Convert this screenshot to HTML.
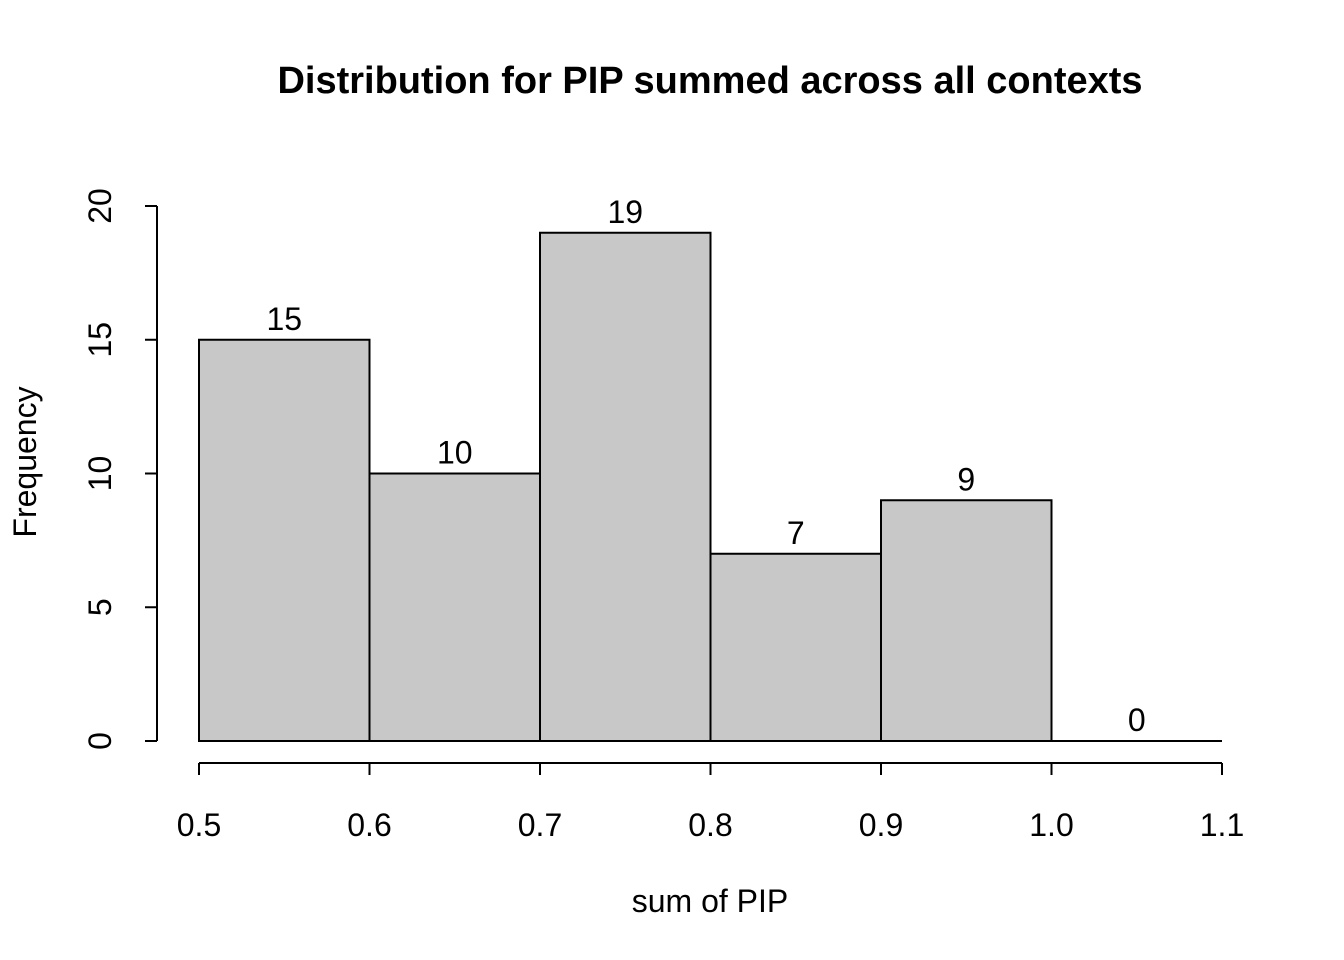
<!DOCTYPE html>
<html><head><meta charset="utf-8"><style>
html,body{margin:0;padding:0;background:#fff}
svg{display:block;font-family:"Liberation Sans",Arial,sans-serif}
</style></head><body>
<svg id="chart" width="1344" height="960" viewBox="0 0 1344 960">
<text x="710" y="93" text-anchor="middle" font-size="38" font-weight="bold">Distribution for PIP summed across all contexts</text>
<text x="710" y="912" text-anchor="middle" font-size="32">sum of PIP</text>
<text transform="translate(36,462) rotate(-90)" text-anchor="middle" font-size="32">Frequency</text>
<g id="bars"></g><g id="xaxis"></g><g id="yaxis"></g>
</svg>
<script>
const binEdges = [0.5, 0.6, 0.7, 0.8, 0.9, 1.0, 1.1];
const counts = [15, 10, 19, 7, 9, 0];
const xTicks = [0.5, 0.6, 0.7, 0.8, 0.9, 1.0, 1.1];
const xTickLabels = ["0.5","0.6","0.7","0.8","0.9","1.0","1.1"];
const yTicks = [0, 5, 10, 15, 20];

const NS = "http://www.w3.org/2000/svg";
const xs = v => 199 + (v - 0.5) / 0.6 * (1222 - 199);
const ys = v => 741 - v / 20 * (741 - 206);
function mk(tag, attrs, parent, text) {
  const e = document.createElementNS(NS, tag);
  for (const k in attrs) e.setAttribute(k, attrs[k]);
  if (text !== undefined) e.textContent = text;
  parent.appendChild(e);
  return e;
}
const bars = document.getElementById('bars');
counts.forEach((c, i) => {
  const x0 = xs(binEdges[i]), x1 = xs(binEdges[i + 1]);
  let r;
  if (c > 0) {
    r = mk('rect', {x: x0, y: ys(c), width: x1 - x0, height: ys(0) - ys(c), fill: '#c8c8c8', stroke: '#000', 'stroke-width': 2}, bars);
  } else {
    r = mk('line', {x1: x0, x2: x1, y1: ys(0), y2: ys(0), stroke: '#000', 'stroke-width': 2}, bars);
  }
  
  
  const t = mk('text', {x: (x0 + x1) / 2, y: ys(c) - 10, 'text-anchor': 'middle', 'font-size': 32}, bars, String(c));
  
  
});
const xa = document.getElementById('xaxis');
const xl = mk('line', {x1: xs(xTicks[0]), x2: xs(xTicks[xTicks.length - 1]), y1: 763, y2: 763, stroke: '#000', 'stroke-width': 2}, xa);


xTicks.forEach((v, i) => {
  mk('line', {x1: xs(v), x2: xs(v), y1: 763, y2: 775, stroke: '#000', 'stroke-width': 2}, xa);
  const t = mk('text', {x: xs(v), y: 836, 'text-anchor': 'middle', 'font-size': 32}, xa, xTickLabels[i]);
  
  
});
const ya = document.getElementById('yaxis');
const yl = mk('line', {x1: 157, x2: 157, y1: ys(yTicks[0]), y2: ys(yTicks[yTicks.length - 1]), stroke: '#000', 'stroke-width': 2}, ya);


yTicks.forEach(v => {
  mk('line', {x1: 145, x2: 157, y1: ys(v), y2: ys(v), stroke: '#000', 'stroke-width': 2}, ya);
  const t = mk('text', {transform: 'translate(111,' + ys(v) + ') rotate(-90)', 'text-anchor': 'middle', 'font-size': 32}, ya, String(v));
  
  
});
</script>
</body></html>
